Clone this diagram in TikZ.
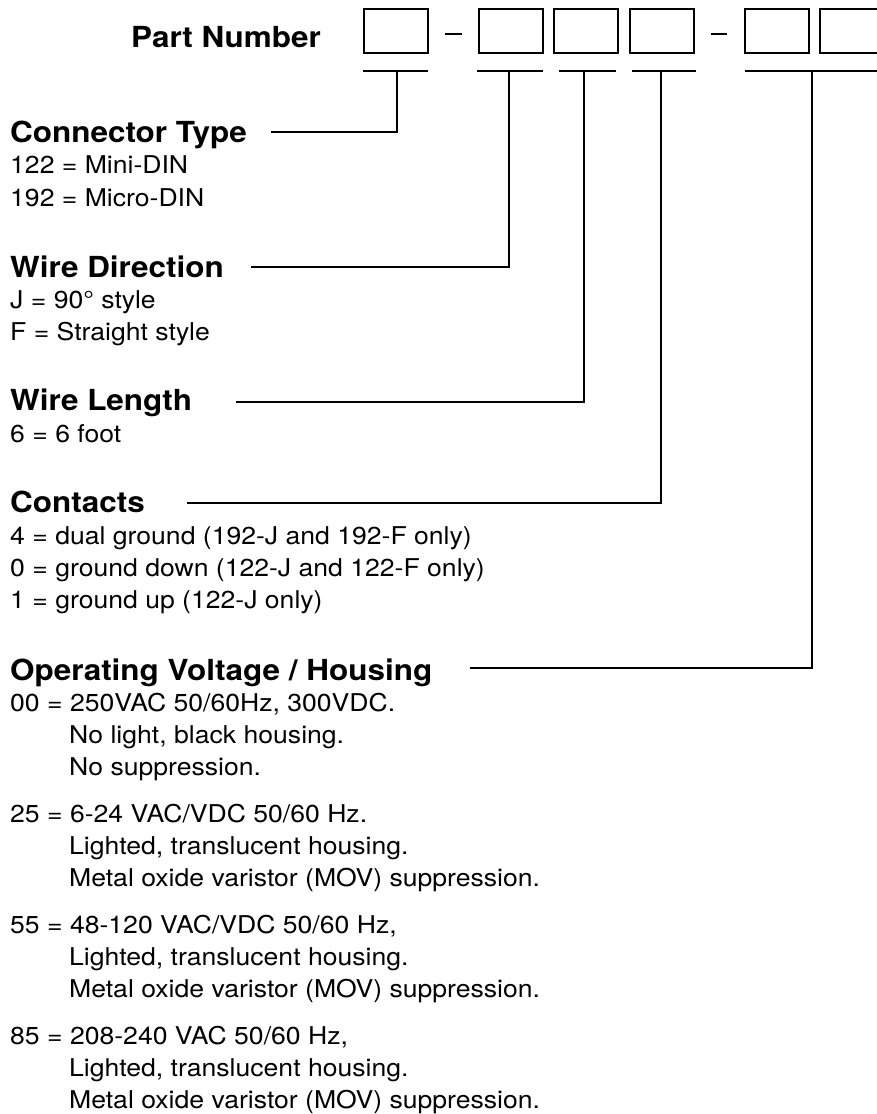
\documentclass[tikz,border=0pt]{standalone}
\usepackage{fontspec}
\setmainfont{TeX Gyre Heros}[FakeStretch=1.085]
\usepackage{tikz}

\tikzset{
  digit/.style={draw, line width=2pt, minimum width=64pt, minimum height=44pt, inner sep=0pt},
  uline/.style={line width=2pt},
  leader/.style={line width=1.5pt},
  head/.style={anchor=base west, inner sep=0pt, font=\fontsize{29}{34}\selectfont\bfseries},
  body/.style={anchor=base west, inner sep=0pt, font=\fontsize{24.5}{32}\selectfont},
}

\begin{document}
\begin{tikzpicture}[x=1pt, y=-1pt]
  \useasboundingbox (0,0) rectangle (877,1114);
  \clip (0,0) rectangle (877,1114);
  % part number boxes
  \node[head] (pn) at (131,47) {Part Number};
  \node[digit] (b1) at (396,31) {};
  \node[digit] (b2) at (511,31) {};
  \node[digit] (b3) at (586,31) {};
  \node[digit] (b4) at (661.5,31) {};
  \node[digit] (b5) at (776.5,31) {};
  \node[digit] (b6) at (852,31) {};
  \draw[leader] (445,34) -- (462,34);
  \draw[leader] (711,34) -- (727,34);
  % underlines, tick points at 71
  \draw[uline] (363,71) -- (428,71);
  \draw[uline] (477,71) -- (543,71);
  \draw[uline] (559,71) -- (616,71);
  \draw[uline] (632,71) -- (696,71);
  \draw[uline] (745,71) -- (880,71);
  \coordinate (t1) at (397,71);
  \coordinate (t2) at (509,71);
  \coordinate (t3) at (584,71);
  \coordinate (t4) at (661,71);
  \coordinate (t5) at (812,71);

  % connector type
  \node[head] (hct) at (10,142) {Connector Type};
  \node[body] (ct1) at (10,173) {122 = Mini-DIN};
  \node[body] (ct2) at (10,206) {192 = Micro-DIN};
  % wire direction
  \node[head] (hwd) at (10,277) {Wire Direction};
  \node[body] (wd1) at (10,308) {J = 90° style};
  \node[body] (wd2) at (10,340) {F = Straight style};
  % wire length
  \node[head] (hwl) at (10,410) {Wire Length};
  \node[body] (wl1) at (10,442) {6 = 6 foot};
  % contacts
  \node[head] (hco) at (10,512) {Contacts};
  \node[body] (co1) at (10,544) {4 = dual ground (192-J and 192-F only)};
  \node[body] (co2) at (10,576) {0 = ground down (122-J and 122-F only)};
  \node[body] (co3) at (10,608) {1 = ground up (122-J only)};
  % operating voltage / housing
  \node[head] (hov) at (10,680) {Operating Voltage / Housing};
  \node[body] (ov1) at (10,711) {00 = 250VAC 50/60Hz, 300VDC.};
  \node[body] (ov2) at (69,743) {No light, black housing.};
  \node[body] (ov3) at (69,775) {No suppression.};
  \node[body] (ov4) at (10,822) {25 = 6-24 VAC/VDC 50/60 Hz.};
  \node[body] (ov5) at (69,854) {Lighted, translucent housing.};
  \node[body] (ov6) at (69,886) {Metal oxide varistor (MOV) suppression.};
  \node[body] (ov7) at (10,933) {55 = 48-120 VAC/VDC 50/60 Hz,};
  \node[body] (ov8) at (69,965) {Lighted, translucent housing.};
  \node[body] (ov9) at (69,997) {Metal oxide varistor (MOV) suppression.};
  \node[body] (ov10) at (10,1044) {85 = 208-240 VAC 50/60 Hz,};
  \node[body] (ov11) at (69,1076) {Lighted, translucent housing.};
  \node[body] (ov12) at (69,1108) {Metal oxide varistor (MOV) suppression.};

  % leaders from headings up to the ticks
  \draw[leader] ([xshift=24pt,yshift=10pt]hct.base east) -| (t1);
  \draw[leader] ([xshift=27pt,yshift=10pt]hwd.base east) -| (t2);
  \draw[leader] ([xshift=44pt,yshift=8pt]hwl.base east) -| (t3);
  \draw[leader] ([xshift=42pt,yshift=9pt]hco.base east) -| (t4);
  \draw[leader] ([xshift=37pt,yshift=12pt]hov.base east) -| (t5);
\end{tikzpicture}
\end{document}
